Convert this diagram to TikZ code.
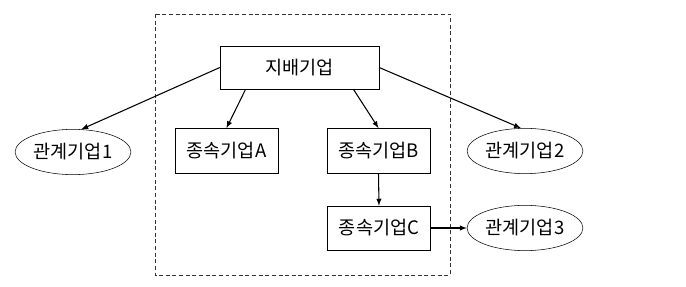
\documentclass[tikz,border=0pt]{standalone}
\usepackage{fontspec}
\setmainfont{Noto Sans CJK KR}
\usetikzlibrary{shapes,arrows,positioning}

\begin{document}
\begin{tikzpicture}[x=0.0265cm, y=-0.0265cm, font=\fontsize{14}{16}\selectfont,
    firm/.style={draw, rectangle, minimum width=2.73cm, minimum height=1.2cm},
    rel/.style={draw, ellipse, minimum width=3.07cm, minimum height=1.2cm, inner sep=1pt},
    link/.style={->, >=latex, thick}]
    \useasboundingbox (0,0) rectangle (686,287);
    \draw[densely dashed, black!80] (155,14) rectangle (450,275);

    \node[firm, minimum width=4.21cm, minimum height=1.14cm] (jb) at (299.5,67.5) {지배기업};
    \node[firm] (sa) at (226.5,151) {종속기업A};
    \node[firm] (sb) at (378.5,151) {종속기업B};
    \node[firm, minimum height=1.17cm] (sc) at (379,228) {종속기업C};
    \node[rel] (r1) at (73,152) {관계기업1};
    \node[rel] (r2) at (525,151) {관계기업2};
    \node[rel] (r3) at (525,228) {관계기업3};

    \draw[link] (jb.west) -- (r1.70);
    \draw[link] (jb.-158) -- (sa.north);
    \draw[link] (jb.-22) -- (sb.north);
    \draw[link] (jb.east) -- (r2.100);
    \draw[link] (sb.south) -- (sc.north);
    \draw[link] (sc.east) -- (r3.west);
\end{tikzpicture}
\end{document}
